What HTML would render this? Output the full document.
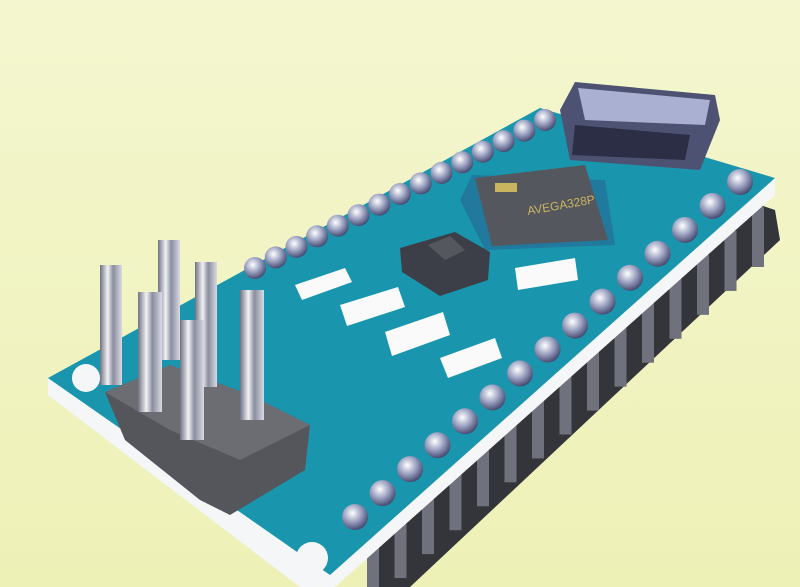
<!DOCTYPE html>
<html><head><meta charset="utf-8"><style>
html,body{margin:0;padding:0;width:800px;height:587px;overflow:hidden;background:#f2f4c6}
svg{display:block}
</style></head><body>
<svg width="800" height="587" viewBox="0 0 800 587">
<defs>
<linearGradient id="bg" x1="0" y1="0" x2="0" y2="1"><stop offset="0" stop-color="#f4f6cf"/><stop offset="1" stop-color="#eef1b6"/></linearGradient>
<linearGradient id="metal" x1="0" y1="0" x2="1" y2="0"><stop offset="0" stop-color="#6e7182"/><stop offset="0.35" stop-color="#f2f2f5"/><stop offset="0.6" stop-color="#8a8d9e"/><stop offset="1" stop-color="#d9dae3"/></linearGradient>
<radialGradient id="pin" cx="0.4" cy="0.35" r="0.7"><stop offset="0" stop-color="#ffffff"/><stop offset="0.5" stop-color="#9aa0c0"/><stop offset="1" stop-color="#3b3f66"/></radialGradient>
</defs>
<rect width="800" height="587" fill="url(#bg)"/>
<polygon points="760,205 775,210 780,240 410,587 370,587 380,540" fill="#34353a"/>
<g id="legs"></g>
<polygon points="48,378 330,575 775,178 775,195 335,587 300,587 48,395" fill="#f4f6f8"/>
<polygon points="48,378 540,108 775,178 330,575" fill="#1996ae"/>
<circle cx="86" cy="378" r="14" fill="#f4f6f8"/>
<circle cx="312" cy="558" r="16" fill="#f4f6f8"/>
<g fill="#fafafa">
<polygon points="295,285 345,268 352,282 302,300"/>
<polygon points="340,305 398,287 405,307 347,326"/>
<polygon points="385,332 443,312 450,335 392,356"/>
<polygon points="440,358 495,338 502,358 448,378"/>
<polygon points="515,268 575,258 578,280 518,290"/>
</g>
<polygon points="460,200 472,175 605,180 615,245 485,250" fill="#2a5e8c" opacity="0.5"/>
<polygon points="475,178 585,165 608,240 492,246" fill="#55575e"/>
<text x="528" y="215" font-family="Liberation Sans, sans-serif" font-size="12" fill="#c9b460" transform="rotate(-10 528 215)">AVEGA328P</text>
<rect x="495" y="183" width="22" height="9" fill="#c9b460"/>
<polygon points="400,248 455,232 490,252 488,280 440,296 402,272" fill="#3d3f48"/>
<polygon points="428,245 450,236 465,250 445,260" fill="#55575f"/>
<polygon points="560,110 575,82 715,95 720,120 700,170 570,160" fill="#4d5273"/>
<polygon points="578,88 710,100 705,125 585,120" fill="#aab0d2"/>
<polygon points="575,125 690,135 685,160 572,155" fill="#2b2e44"/>
<g id="toppins"></g>
<g id="rightpins"></g>
<polygon points="105,392 170,365 250,395 310,425 305,470 230,515 200,500 125,440" fill="#55565c"/>
<polygon points="105,392 170,365 250,395 310,425 240,460 170,430" fill="#6c6d73"/>
<g fill="url(#metal)">
<rect x="100" y="265" width="22" height="120"/>
<rect x="158" y="240" width="22" height="120"/>
<rect x="195" y="262" width="22" height="125"/>
<rect x="138" y="292" width="24" height="120"/>
<rect x="180" y="320" width="24" height="120"/>
<rect x="240" y="290" width="24" height="130"/>
</g>
</svg>
<script>
const topPins=15, rightPins=15;
const tp=document.getElementById('toppins');
for(let i=0;i<topPins;i++){const t=i/(topPins-1);const c=document.createElementNS('http://www.w3.org/2000/svg','circle');
c.setAttribute('cx',255+t*290);c.setAttribute('cy',268-t*148);c.setAttribute('r',11);c.setAttribute('fill','url(#pin)');


tp.appendChild(c);}
const rp=document.getElementById('rightpins');const lg=document.getElementById('legs');
for(let i=0;i<rightPins;i++){const t=i/(rightPins-1);const x=740-t*385,y=182+t*335;
const c=document.createElementNS('http://www.w3.org/2000/svg','circle');
c.setAttribute('cx',x);c.setAttribute('cy',y);c.setAttribute('r',13);c.setAttribute('fill','url(#pin)');


rp.appendChild(c);
const r=document.createElementNS('http://www.w3.org/2000/svg','rect');
r.setAttribute('x',x+12);r.setAttribute('y',y+25);r.setAttribute('width',12);r.setAttribute('height',60);r.setAttribute('fill','#6f717c');


lg.appendChild(r);}
</script>
</body></html>
